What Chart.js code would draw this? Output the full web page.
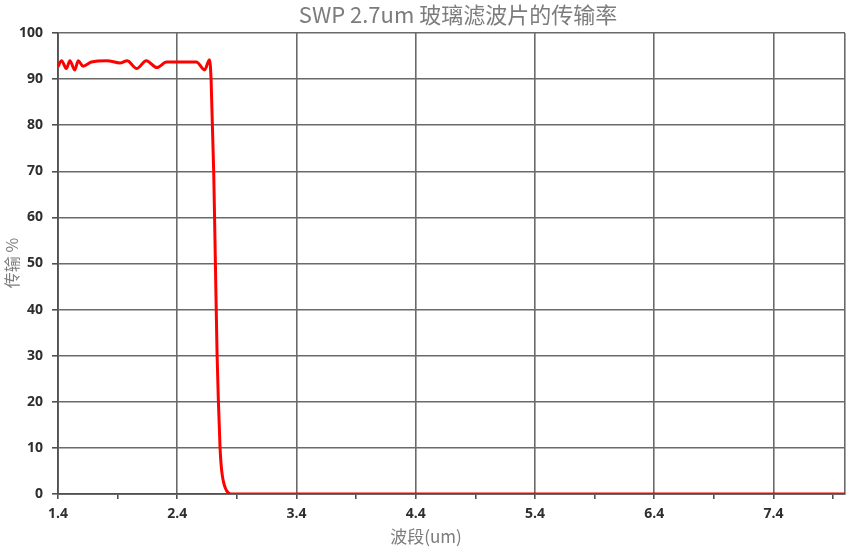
<!DOCTYPE html>
<html>
<head>
<meta charset="utf-8">
<script src="https://cdn.jsdelivr.net/npm/chart.js@4"></script>
<style>
  html, body { margin: 0; padding: 0; background: #fff; }
  #wrap { width: 852px; height: 555px; }
</style>
</head>
<body>
<div id="wrap"><canvas id="swpChart"></canvas></div>
<script>
// valori (um, %)
const wavelength = [1.40, 1.43, 1.47, 1.50, 1.54, 1.57, 1.61, 1.68, 1.81, 1.92, 1.98, 2.06, 2.14, 2.23, 2.31, 2.56, 2.63, 2.67, 2.684, 2.706, 2.720, 2.734, 2.745, 2.759, 2.773, 2.803, 2.862, 3.0, 8.0];
const transmission = [92.7, 94.0, 92.3, 94.0, 92.0, 94.0, 92.8, 93.7, 94.0, 93.5, 94.0, 92.3, 94.0, 92.5, 93.7, 93.7, 92.0, 94.2, 89.8, 69.6, 50.0, 30.4, 20.2, 10.0, 5.0, 1.3, 0, 0, 0];

const xMajor = [1.4, 2.4, 3.4, 4.4, 5.4, 6.4, 7.4];
const xMinor = [1.9, 2.9, 3.9, 4.9, 5.9, 6.9, 7.9];
const xEnd = 8.0;
const yTicks = [0, 10, 20, 30, 40, 50, 60, 70, 80, 90, 100];

const titlu = 'SWP 2.7um 玻璃滤波片的传输率';
const titluX = '波段(um)';
const titluY = '传输 %';

const culori = {
    rosu: '#ff0000',
    grila: '#6a6a6a',
    ax: '#505050',
    text: '#2e2e2e',
    textGri: '#7c7c7c'
};

const fontCJK = '"Noto Sans CJK SC", "Noto Sans", sans-serif';
const fontTicks = { family: '"Open Sans", "DejaVu Sans", sans-serif', size: 14, weight: 'bold' };

// titlurile desenate manual, ca sa stea exact unde sunt in original
const titluri = {
    id: 'titluri',
    afterDraw(chart) {
        const ctx = chart.ctx;
        ctx.save();
        ctx.fillStyle = culori.textGri;
        ctx.textAlign = 'center';
        ctx.textBaseline = 'middle';
        ctx.font = '22px ' + fontCJK;
        ctx.fillText(titlu, 458, 15);
        ctx.font = '17px ' + fontCJK;
        ctx.fillText(titluX, 426, 537);
        ctx.font = '16px ' + fontCJK;
        ctx.translate(12, 263);
        ctx.rotate(-Math.PI / 2);
        ctx.fillText(titluY, 0, 0);
        ctx.restore();
    }
};

new Chart(document.getElementById('swpChart').getContext('2d'), {
    type: 'line',
    data: {
        datasets: [{
            data: wavelength.map((x, i) => ({ x: x, y: transmission[i] })),
            borderColor: culori.rosu,
            borderWidth: 3,
            pointRadius: 0,
            cubicInterpolationMode: 'monotone',
            fill: false
        }]
    },
    options: {
        responsive: true,
        maintainAspectRatio: false,
        animation: false,
        layout: { padding: { top: 33, right: 5, left: 0, bottom: 0 } },
        plugins: {
            legend: { display: false },
            tooltip: { enabled: false },
            title: { display: false }
        },
        scales: {
            x: {
                type: 'linear',
                min: 1.4,
                max: xEnd,
                afterBuildTicks(scale) {
                    const vals = xMajor.concat(xMinor, [xEnd]).sort((a, b) => a - b);
                    scale.ticks = vals.map(v => ({ value: v }));
                },
                afterFit(scale) { scale.height = 61; },
                ticks: {
                    autoSkip: false,
                    maxRotation: 0,
                    color: culori.text,
                    font: fontTicks,
                    padding: 7,
                    callback: (v) => xMajor.includes(v) ? v.toFixed(1) : ''
                },
                grid: {
                    color: (c) => (c.tick && xMinor.includes(c.tick.value)) ? 'transparent' : culori.grila,
                    tickColor: (c) => (c.tick && c.tick.value === xEnd) ? 'transparent' : culori.ax,
                    lineWidth: 1.6,
                    tickLength: 5
                },
                border: { color: culori.ax, width: 1.8 }
            },
            y: {
                min: 0,
                max: 100,
                afterBuildTicks(scale) {
                    scale.ticks = yTicks.map(v => ({ value: v }));
                },
                afterFit(scale) { scale.width = 58; },
                ticks: {
                    color: culori.text,
                    font: fontTicks,
                    padding: 9
                },
                grid: {
                    color: culori.grila,
                    tickColor: culori.ax,
                    lineWidth: 1.6,
                    tickLength: 6
                },
                border: { color: culori.ax, width: 1.8 }
            }
        }
    },
    plugins: [titluri]
});
</script>
</body>
</html>
